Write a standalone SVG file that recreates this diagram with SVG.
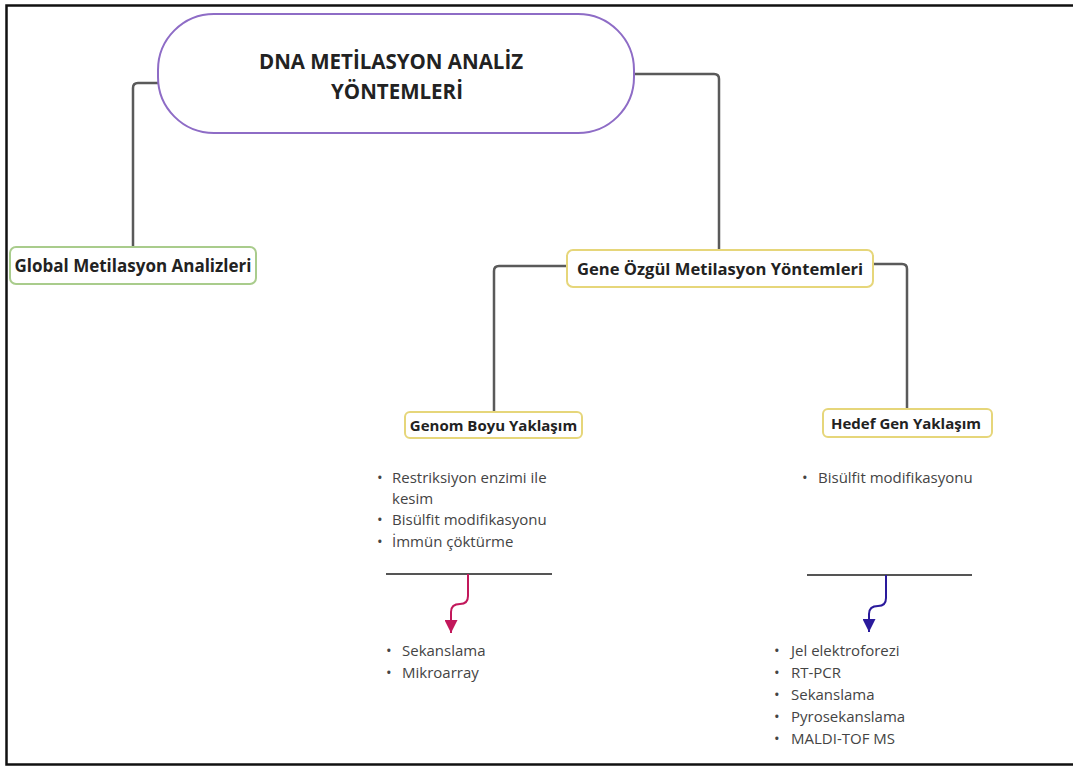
<svg xmlns="http://www.w3.org/2000/svg" width="1073" height="767" viewBox="0 0 1073 767">
<defs>
<style>
.conn{fill:none;stroke:#5a5a5a;stroke-width:2.5;stroke-linejoin:round}
.sep{fill:none;stroke:#555;stroke-width:2}
.title{font-family:"Open Sans","Liberation Sans",sans-serif;font-weight:bold;font-size:20.5px;fill:#222;text-anchor:middle}
.lbl{font-family:"Open Sans","Liberation Sans",sans-serif;font-weight:bold;fill:#222;text-anchor:middle}
.item{font-family:"Open Sans","Liberation Sans",sans-serif;font-size:15px;fill:#444}
.green{fill:#fff;stroke:#a9cc8c;stroke-width:2}
.yellow{fill:#fff;stroke:#e6d67a;stroke-width:2}
</style>
<marker id="arrPink" viewBox="0 0 10 10" refX="10" refY="5" markerWidth="13" markerHeight="13" markerUnits="userSpaceOnUse" orient="auto">
<path d="M0,0 L10,5 L0,10 Z" fill="#c2185b"/>
</marker>
<marker id="arrBlue" viewBox="0 0 10 10" refX="10" refY="5" markerWidth="13" markerHeight="13" markerUnits="userSpaceOnUse" orient="auto">
<path d="M0,0 L10,5 L0,10 Z" fill="#2a1a9c"/>
</marker>
</defs>
<rect x="0" y="0" width="1073" height="767" fill="#fff"/>
<path d="M1080,5.5 H6.5 V764.5 H1080" fill="none" stroke="#111" stroke-width="2.5"/>

<g id="connectors">
<path class="conn" d="M158,83 H138 Q133,83 133,88 V246"/>
<path class="conn" d="M634,74 H714 Q719,74 719,79 V250"/>
<path class="conn" d="M567,266 H499 Q494,266 494,271 V412"/>
<path class="conn" d="M873,264 H902 Q907,264 907,269 V409"/>
<line class="sep" x1="386" y1="574" x2="552" y2="574"/>
<line class="sep" x1="807" y1="575" x2="972" y2="575"/>
<path d="M468,574 V596 Q468,604 460,604 Q451,604 451,612 V633" fill="none" stroke="#c2185b" stroke-width="2" marker-end="url(#arrPink)"/>
<path d="M886,575 V598 Q886,606 878,606 Q869,606 869,614 V632" fill="none" stroke="#2a1a9c" stroke-width="2" marker-end="url(#arrBlue)"/>
</g>

<g id="root">
<rect x="158" y="14" width="476" height="119" rx="56" ry="56" fill="#fff" stroke="#8e6cc6" stroke-width="2"/>
<text class="title" x="391" y="69">DNA METİLASYON ANALİZ</text>
<text class="title" x="397" y="99">YÖNTEMLERİ</text>
</g>

<g id="global">
<rect class="green" x="10" y="247" width="246" height="37" rx="6"/>
<text class="lbl" x="133" y="272" font-size="17">Global Metilasyon Analizleri</text>
</g>

<g id="gene">
<rect class="yellow" x="567" y="250" width="306" height="37" rx="6"/>
<text class="lbl" x="720" y="275" font-size="16.6">Gene Özgül Metilasyon Yöntemleri</text>
</g>

<g id="genom">
<rect class="yellow" x="405" y="412" width="177" height="26" rx="5"/>
<text class="lbl" x="493.5" y="431" font-size="15">Genom Boyu Yaklaşım</text>
</g>

<g id="hedef">
<rect class="yellow" x="823" y="409" width="169" height="28" rx="5"/>
<text class="lbl" x="906" y="429" font-size="15">Hedef Gen Yaklaşım</text>
</g>

<g id="genom-list">
<text class="item" x="377" y="483">•</text><text class="item" x="392" y="483">Restriksiyon enzimi ile</text>
<text class="item" x="392" y="504">kesim</text>
<text class="item" x="377" y="525">•</text><text class="item" x="392" y="525">Bisülfit modifikasyonu</text>
<text class="item" x="377" y="547">•</text><text class="item" x="392" y="547">İmmün çöktürme</text>
</g>

<g id="hedef-list">
<text class="item" x="802" y="483">•</text><text class="item" x="818" y="483">Bisülfit modifikasyonu</text>
</g>

<g id="genom-methods">
<text class="item" x="386" y="656">•</text><text class="item" x="402" y="656">Sekanslama</text>
<text class="item" x="386" y="678">•</text><text class="item" x="402" y="678">Mikroarray</text>
</g>

<g id="hedef-methods">
<text class="item" x="774" y="656">•</text><text class="item" x="791" y="656">Jel elektroforezi</text>
<text class="item" x="774" y="678">•</text><text class="item" x="791" y="678">RT-PCR</text>
<text class="item" x="774" y="700">•</text><text class="item" x="791" y="700">Sekanslama</text>
<text class="item" x="774" y="722">•</text><text class="item" x="791" y="722">Pyrosekanslama</text>
<text class="item" x="774" y="744">•</text><text class="item" x="791" y="744">MALDI-TOF MS</text>
</g>
</svg>
